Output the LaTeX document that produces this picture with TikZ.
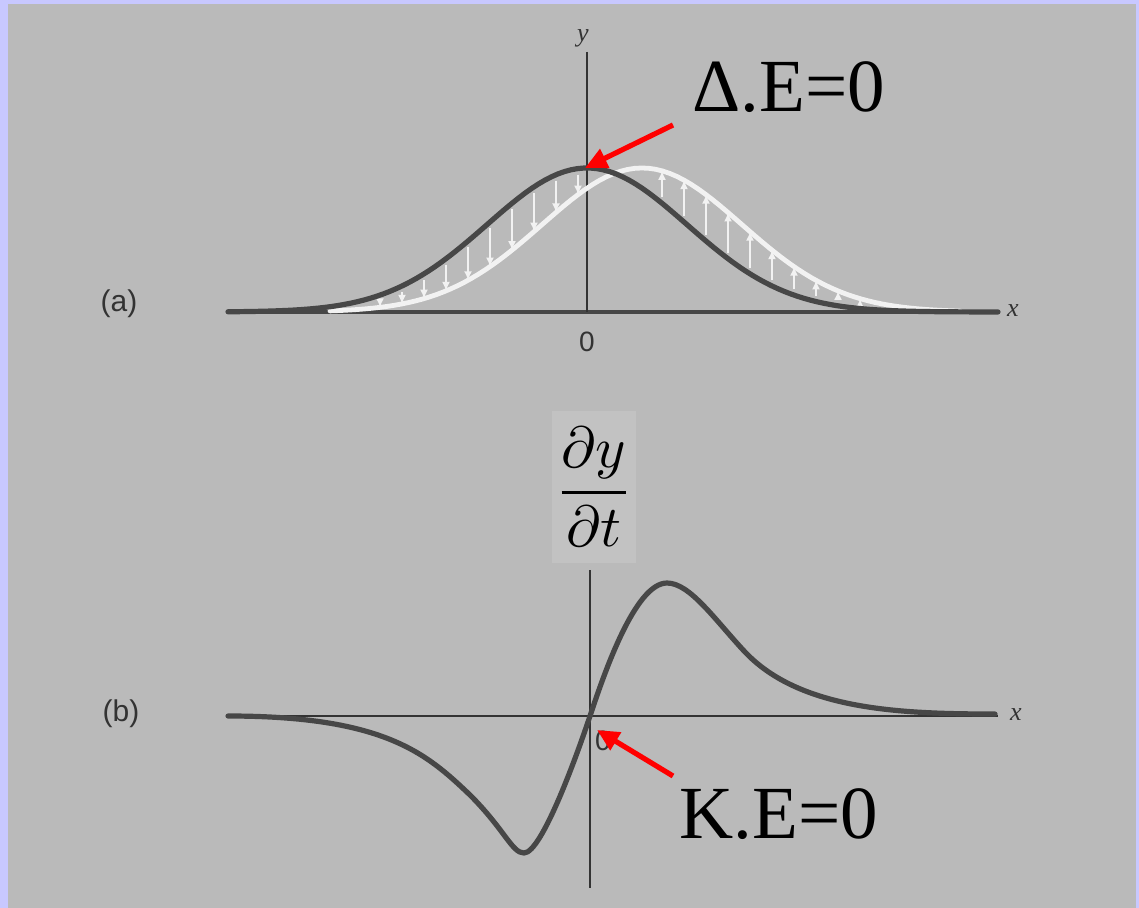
\documentclass[tikz,border=0pt]{standalone}
\usepackage{fontspec}
\setmainfont{Liberation Serif}
\setsansfont{Liberation Sans}
\usetikzlibrary{
  arrows.meta,
  positioning
}
\definecolor{frame}{HTML}{C8C8FF}
\definecolor{scan}{HTML}{BABABA}
\definecolor{patch}{HTML}{C2C2C2}
\definecolor{ink}{HTML}{333333}
\definecolor{pencil}{HTML}{474747}
\definecolor{chalk}{HTML}{F2F2F2}
\definecolor{alarm}{HTML}{FF0000}

\begin{document}
\begin{tikzpicture}[
  x=0.5pt,
  y=-0.5pt,
  declare function={
    pulse(\t)=312-144*exp(-0.5*((\t-587)/100)^2);
    echo(\t)=pulse(\t-55);
  },
  axis/.style={
    draw=ink,
    line width=1pt
  },
  baseaxis/.style={
    draw=pencil,
    line width=1.8pt
  },
  curve/.style={
    draw=pencil,
    line width=2.6pt,
    line cap=round
  },
  ghost/.style={
    draw=chalk,
    line width=2.4pt,
    line cap=round
  },
  dispflow/.style={
    -{Latex[length=4.5pt,width=4pt]},
    draw=chalk,
    line width=1.2pt,
    shorten <=3pt
  },
  callout/.style={
    -{Triangle[length=11pt,width=10pt]},
    draw=alarm,
    fill=alarm,
    line width=2.6pt
  },
  panellabel/.style={
    font=\sffamily\fontsize{15}{18}\selectfont,
    text=ink,
    inner sep=0pt
  },
  ticklabel/.style={
    font=\sffamily\fontsize{14}{16}\selectfont,
    text=ink,
    inner sep=0pt
  },
  axislabel/.style={
    font=\itshape\fontsize{13}{15}\selectfont,
    text=ink,
    inner sep=0pt
  },
  energy/.style={
    font=\fontsize{37.5}{42}\selectfont,
    text=black,
    inner sep=0pt
  }
]

\useasboundingbox (0,0) rectangle (1139,908);
\fill[frame] (0,0) rectangle (1139,908);
\fill[scan] (8,4) rectangle (1136,908);

% Panel (a): pulse and its displaced copy
\coordinate (oa) at (587,312);
\draw[baseaxis] (228,312) -- (998,312);
\draw[axis] (587,52) -- (oa);
\draw[ghost] plot[domain=330:960, samples=90] (\x,{echo(\x)});
\foreach \xa in {380,402,...,578}
  \draw[dispflow] (\xa,{pulse(\xa)}) -- (\xa,{echo(\xa)});
\foreach \xa in {662,684,...,868}
  \draw[dispflow] (\xa,{pulse(\xa)}) -- (\xa,{echo(\xa)});
\draw[curve] plot[domain=228:998, samples=120] (\x,{pulse(\x)});

\node[panellabel] (labela) at (119,304) {(a)};
\node[axislabel] (ya) at (583,38) {y};
\node[axislabel] (xa) at (1013,311) {x};
\node[ticklabel, below=10pt of oa] (zeroa) {0};

% Panel (b): transverse velocity
\coordinate (ob) at (590,716);
\coordinate (trough) at (524,853);
\coordinate (peak) at (667,583);
\draw[axis] (228,716) -- (998,716);
\draw[axis] (590,570) -- (590,888);
\draw[curve] (228,716) .. controls (385,716) and (427,754) .. (470,795)
  .. controls (505,830) and (512,853) .. (trough)
  .. controls (542,853) and (578,752) .. (ob)
  .. controls (604,674) and (635,583) .. (peak)
  .. controls (690,583) and (715,620) .. (745,652)
  .. controls (800,710) and (900,714) .. (995,714);

\node[panellabel] (labelb) at (121,714) {(b)};
\node[axislabel] (xb) at (1016,715) {x};
\node[ticklabel] (zerob) at (603,741) {0};
\node[fill=patch, minimum width=42pt, minimum height=76pt, inner sep=0pt] (rate) at (594,487)
  {\scalebox{2.9}{$\displaystyle\frac{\partial y}{\partial t}$}};

% Energy callouts
\coordinate (crest) at (585,168);
\coordinate (crestfrom) at (673,125);
\coordinate (cross) at (597,730);
\coordinate (crossfrom) at (673,776);
\draw[callout] (crestfrom) -- (crest);
\draw[callout] (crossfrom) -- (cross);

\node[energy, anchor=base west] (pe) at (692,112) {Δ.E=0};
\node[energy, anchor=base west] (ke) at (679,838) {K.E=0};

\end{tikzpicture}
\end{document}
